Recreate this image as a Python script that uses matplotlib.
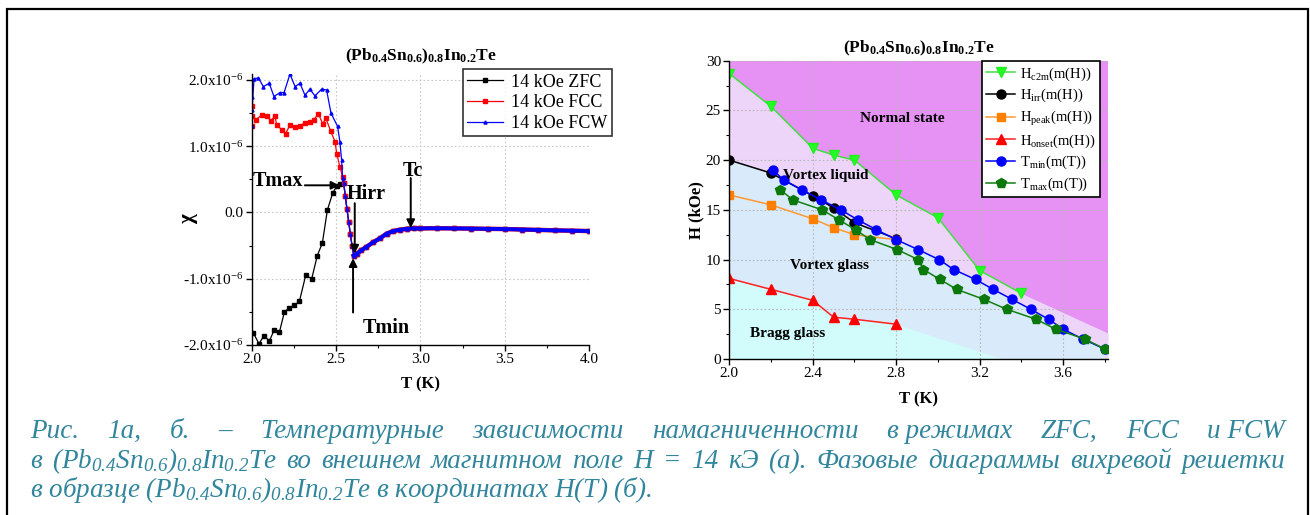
import matplotlib
matplotlib.use("Agg")
import matplotlib.pyplot as plt
import numpy as np
from matplotlib.patches import Rectangle
from matplotlib.ticker import MultipleLocator, FixedLocator, FuncFormatter

plt.rcParams.update({
    "font.family": "Liberation Serif",
    "mathtext.default": "regular",
    "axes.linewidth": 1.0,
    "xtick.direction": "out",
    "ytick.direction": "out",
    "xtick.labelsize": 11,
    "ytick.labelsize": 11,
})

W, H = 1310, 515

# ---- left panel: chi(T) at 14 kOe, values in units of 1e-6 ----
ZFC_T = [2.01, 2.043, 2.073, 2.105, 2.132, 2.164, 2.194, 2.223, 2.253, 2.283,
         2.32, 2.356, 2.389, 2.419, 2.449, 2.48, 2.504, 2.524]
ZFC_CHI = [-1.82, -1.98, -1.86, -1.94, -1.78, -1.81, -1.50, -1.44, -1.40, -1.34,
           -0.95, -1.00, -0.65, -0.46, 0.04, 0.29, 0.40, 0.43]

FCC_T = [2.0, 2.0, 2.002, 2.025, 2.059, 2.089, 2.114, 2.138, 2.148, 2.178, 2.201,
         2.227, 2.257, 2.286, 2.316, 2.345, 2.369, 2.395, 2.421, 2.44, 2.468,
         2.494, 2.504, 2.523, 2.539]
FCC_CHI = [1.60, 1.30, 1.45, 1.40, 1.47, 1.46, 1.38, 1.46, 1.32, 1.25, 1.19,
           1.32, 1.29, 1.31, 1.35, 1.37, 1.40, 1.49, 1.34, 1.42, 1.23,
           1.07, 0.89, 0.69, 0.54]

FCW_T = [2.0, 2.0, 2.002, 2.014, 2.04, 2.069, 2.104, 2.132, 2.168, 2.192, 2.227,
         2.257, 2.286, 2.316, 2.345, 2.375, 2.414, 2.444, 2.47, 2.509, 2.523,
         2.533, 2.539]
FCW_CHI = [1.30, 1.75, 1.55, 2.02, 2.03, 1.90, 1.95, 1.75, 1.81, 1.81, 2.09,
           1.90, 1.95, 1.77, 1.86, 1.76, 1.86, 1.85, 1.50, 1.30, 1.07,
           0.79, 0.52]

# common drop through the transition and the high-T tail (all three coincide)
DROP_T = [2.545, 2.555, 2.565, 2.575, 2.585, 2.595]
DROP_CHI = [0.45, 0.25, 0.05, -0.14, -0.33, -0.50]
TAIL_T = [2.605, 2.625, 2.65, 2.68, 2.72, 2.76, 2.80, 2.84, 2.88, 2.92, 2.96,
          3.0, 3.1, 3.2, 3.3, 3.4, 3.5, 3.6, 3.7, 3.8, 3.9, 4.0]
TAIL_CHI = [-0.65, -0.62, -0.57, -0.52, -0.45, -0.39, -0.32, -0.28, -0.26, -0.246,
            -0.24, -0.24, -0.238, -0.24, -0.243, -0.247, -0.25, -0.257, -0.263,
            -0.27, -0.275, -0.28]

# ---- right panel: H-T phase diagram ----
HC2_T = [2.0, 2.2, 2.4, 2.5, 2.6, 2.8, 3.0, 3.2, 3.4]
HC2_H = [28.7, 25.4, 21.2, 20.5, 20.0, 16.5, 14.2, 8.9, 6.6]
HIRR_T = [2.0, 2.2, 2.4, 2.5, 2.6, 2.8]
HIRR_H = [20.0, 18.7, 16.4, 15.2, 13.7, 12.1]
HPEAK_T = [2.0, 2.2, 2.4, 2.5, 2.6, 2.8]
HPEAK_H = [16.5, 15.5, 14.1, 13.2, 12.5, 12.0]
HONSET_T = [2.0, 2.2, 2.4, 2.5, 2.6, 2.8]
HONSET_H = [8.1, 7.0, 5.9, 4.2, 4.0, 3.5]
TMIN_T = [2.21, 2.26, 2.35, 2.44, 2.535, 2.615, 2.705, 2.80, 2.905, 3.005, 3.075,
          3.18, 3.265, 3.355, 3.445, 3.53, 3.60, 3.695, 3.80]
TMIN_H = [19, 18, 17, 16, 15, 14, 13, 12, 11, 10, 9, 8, 7, 6, 5, 4, 3, 2, 1]
TMAX_T = [2.245, 2.305, 2.445, 2.525, 2.605, 2.675, 2.805, 2.905, 2.93, 3.01,
          3.09, 3.22, 3.33, 3.47, 3.565, 3.705, 3.80]
TMAX_H = [17, 16, 15, 14, 13, 12, 11, 10, 9, 8, 7, 6, 5, 4, 3, 2, 1]

# shaded phase boundaries continue past the last measured points
NORMAL_END_T, NORMAL_END_H = [3.815], [2.6]
BRAGG_END_T, BRAGG_END_H = [3.31], [0.0]

TITLE = "(Pb$_{0.4}$Sn$_{0.6}$)$_{0.8}$In$_{0.2}$Te"

CAPTION_1 = ["Рис.", "1а,", "б.", "–", "Температурные", "зависимости",
             "намагниченности", "в режимах", "ZFC,", "FCC", "и FCW"]
CAPTION_2 = ("в (Pb$_{0.4}$Sn$_{0.6}$)$_{0.8}$In$_{0.2}$Te во внешнем магнитном поле "
             "H = 14 кЭ (а). Фазовые диаграммы вихревой решетки")
CAPTION_3 = ("в образце (Pb$_{0.4}$Sn$_{0.6}$)$_{0.8}$In$_{0.2}$Te "
             "в координатах H(T) (б).")

fig = plt.figure(figsize=(W / 100, H / 100), dpi=100)

# ================= left panel =================
ax1 = fig.add_axes([251.7 / W, 1 - 345 / H, 337.3 / W, 271 / H])
ax1.plot(ZFC_T + DROP_T + TAIL_T, ZFC_CHI + DROP_CHI + TAIL_CHI, color="black",
         lw=0.9, marker="s", ms=2.2, label="14 kOe ZFC")
ax1.plot(FCC_T + DROP_T + TAIL_T, FCC_CHI + DROP_CHI + TAIL_CHI, color="red",
         lw=0.9, marker="s", ms=2.2, label="14 kOe FCC")
ax1.plot(TAIL_T, TAIL_CHI, color="red", lw=3.2)
ax1.plot(FCW_T + DROP_T + TAIL_T, FCW_CHI + DROP_CHI + TAIL_CHI, color="blue",
         lw=0.9, marker="^", ms=2.2, label="14 kOe FCW")
ax1.plot(TAIL_T, TAIL_CHI, color="blue", lw=2.8)

ax1.set_xlim(2.0, 4.0)
ax1.set_ylim(-2.0, 2.09)
ax1.xaxis.set_major_locator(MultipleLocator(0.5))
ax1.xaxis.set_minor_locator(MultipleLocator(0.25))
ax1.yaxis.set_major_locator(FixedLocator([-2, -1, 0, 1, 2]))
ax1.yaxis.set_minor_locator(FixedLocator([-1.5, -0.5, 0.5, 1.5]))
ax1.yaxis.set_major_formatter(FuncFormatter(
    lambda v, p: "0.0" if abs(v) < 1e-9 else f"{v:.1f}x10$^{{-6}}$"))
ax1.xaxis.set_major_formatter(FuncFormatter(lambda v, p: f"{v:.1f}"))
ax1.tick_params(which="major", length=4, width=1.0, pad=2)
ax1.tick_params(which="minor", length=2.5, width=0.8)
ax1.grid(True, which="major", color="#c8c8c8", ls=(0, (1.5, 2)), lw=0.8)
for s in ("top", "right"):
    ax1.spines[s].set_visible(False)

ax1.set_title(TITLE, fontsize=12.5, fontweight="bold", pad=10)
ax1.set_xlabel("T (K)", fontsize=12, fontweight="bold", labelpad=7)
ax1.text(-0.19, 0.47, "χ", transform=ax1.transAxes, rotation=90,
         fontsize=15, fontweight="bold", ha="center", va="center")

arrow = dict(arrowstyle="-|>", color="black", lw=1.4, mutation_scale=12,
             shrinkA=0, shrinkB=0)
ax1.annotate("", xy=(2.52, 0.41), xytext=(2.315, 0.41), arrowprops=arrow)
ax1.annotate("", xy=(2.611, -0.62), xytext=(2.611, 0.14), arrowprops=arrow)
ax1.annotate("", xy=(2.601, -0.69), xytext=(2.601, -1.51), arrowprops=arrow)
ax1.annotate("", xy=(2.943, -0.235), xytext=(2.943, 0.52), arrowprops=arrow)
lab = dict(fontsize=14.5, fontweight="bold", ha="center", va="center")
ax1.text(2.157, 0.47, "Tmax", **lab)
ax1.text(2.68, 0.28, "Hirr", **lab)
ax1.text(2.80, -1.75, "Tmin", **lab)
ax1.text(2.955, 0.62, "Tc", **lab)

leg1 = ax1.legend(loc="upper left", bbox_to_anchor=(0.626, 1.018),
                  prop={"family": "Liberation Serif", "size": 13},
                  frameon=True, fancybox=False, edgecolor="black",
                  borderaxespad=0, handlelength=2.0, labelspacing=0.2,
                  handletextpad=0.4, borderpad=0.25)
leg1.get_frame().set_linewidth(1.2)
leg1.set_zorder(10)

# ================= right panel =================
ax2 = fig.add_axes([729.3 / W, 1 - 359 / H, 378.7 / W, 298.3 / H])
ax2.set_facecolor("#e692f4")
normal_T = np.concatenate([HC2_T, NORMAL_END_T])
normal_H = np.concatenate([HC2_H, NORMAL_END_H])
tmin_T, tmin_H = np.array(TMIN_T), np.array(TMIN_H)
liquid_T = np.concatenate([HIRR_T, tmin_T[tmin_T > HIRR_T[-1]]])
liquid_H = np.concatenate([HIRR_H, tmin_H[tmin_T > HIRR_T[-1]]])
bragg_T = np.concatenate([HONSET_T, BRAGG_END_T])
bragg_H = np.concatenate([HONSET_H, BRAGG_END_H])
ax2.fill_between(normal_T, 0, normal_H, color="#ecd5f9", lw=0)
ax2.fill_between(liquid_T, 0, liquid_H, color="#d9eafa", lw=0)
ax2.fill_between(bragg_T, 0, bragg_H, color="#d2fbfb", lw=0)

ax2.plot(HC2_T, HC2_H, color="#44dd44", lw=1.1, marker="v", ms=7,
         mfc="#22ff22", mec="#22ee22", label="H$_{c2m}$(m(H))")
ax2.plot(HIRR_T, HIRR_H, color="black", lw=1.1, marker="o", ms=6.5,
         label="H$_{irr}$(m(H))")
ax2.plot(HPEAK_T, HPEAK_H, color="#ff9933", lw=1.1, marker="s", ms=6,
         mfc="#ff8000", mec="#ff8000", label="H$_{peak}$(m(H))")
ax2.plot(HONSET_T, HONSET_H, color="#ff2020", lw=1.1, marker="^", ms=7,
         mfc="red", mec="red", label="H$_{onset}$(m(H))")
ax2.plot(TMIN_T, TMIN_H, color="blue", lw=1.1, marker="o", ms=6.5,
         label="T$_{min}$(m(T))")
ax2.plot(TMAX_T, TMAX_H, color="#108010", lw=1.1, marker="p", ms=7,
         mfc="#0a780a", mec="#0a780a", label="T$_{max}$(m(T))")

ax2.set_xlim(2.0, 3.815)
ax2.set_ylim(0, 30)
ax2.xaxis.set_major_locator(MultipleLocator(0.4))
ax2.xaxis.set_minor_locator(MultipleLocator(0.2))
ax2.yaxis.set_major_locator(MultipleLocator(5))
ax2.yaxis.set_minor_locator(MultipleLocator(2.5))
ax2.xaxis.set_major_formatter(FuncFormatter(lambda v, p: f"{v:.1f}"))
ax2.tick_params(which="major", length=4, width=1.0, pad=2)
ax2.tick_params(which="minor", length=2.5, width=0.8)
ax2.grid(True, which="major", color="#b8b8b8", ls=(0, (1.5, 2)), lw=0.8)
for s in ("top", "right"):
    ax2.spines[s].set_visible(False)

ax2.set_title(TITLE, fontsize=12.5, fontweight="bold", pad=6)
ax2.set_xlabel("T (K)", fontsize=12, fontweight="bold", labelpad=8)
ax2.set_ylabel("H (kOe)", fontsize=12, fontweight="bold", labelpad=1)

phase = dict(fontsize=11, fontweight="bold", ha="center", va="center")
ax2.text(2.83, 24.2, "Normal state", **phase)
ax2.text(2.46, 18.5, "Vortex liquid", **phase)
ax2.text(2.48, 9.4, "Vortex glass", **phase)
ax2.text(2.28, 2.6, "Bragg glass", **phase)

leg2 = ax2.legend(loc="upper left", bbox_to_anchor=(0.667, 0.999), fontsize=10.5,
                  frameon=True, fancybox=False, edgecolor="black",
                  facecolor="white", framealpha=1, borderaxespad=0,
                  handlelength=2.0, labelspacing=0.3, handletextpad=0.3,
                  borderpad=0.3)
leg2.get_frame().set_linewidth(1.2)

# ================= caption and frame =================
fig.patches.append(Rectangle((7 / W, -0.05), 1301 / W, 1.05 - 9 / H,
                             transform=fig.transFigure, fill=False,
                             lw=1.6, ec="black"))

cap = dict(fontsize=19.5, style="italic", color="#31859c", va="baseline")


def justify(words, y_px, x0, x1):
    texts = [fig.text(0, 1 - y_px / H, w, **cap) for w in words]
    fig.canvas.draw()
    r = fig.canvas.get_renderer()
    widths = [t.get_window_extent(r).width for t in texts]
    gap = (x1 - x0 - sum(widths)) / (len(words) - 1)
    x = x0
    for t, w in zip(texts, widths):
        t.set_x(x / W)
        x += w + gap


justify(CAPTION_1, 438, 30, 1285)
justify(CAPTION_2.split(" "), 468, 30, 1285)
fig.text(30 / W, 1 - 497 / H, CAPTION_3, **cap)

fig.savefig("out.png", dpi=100)
